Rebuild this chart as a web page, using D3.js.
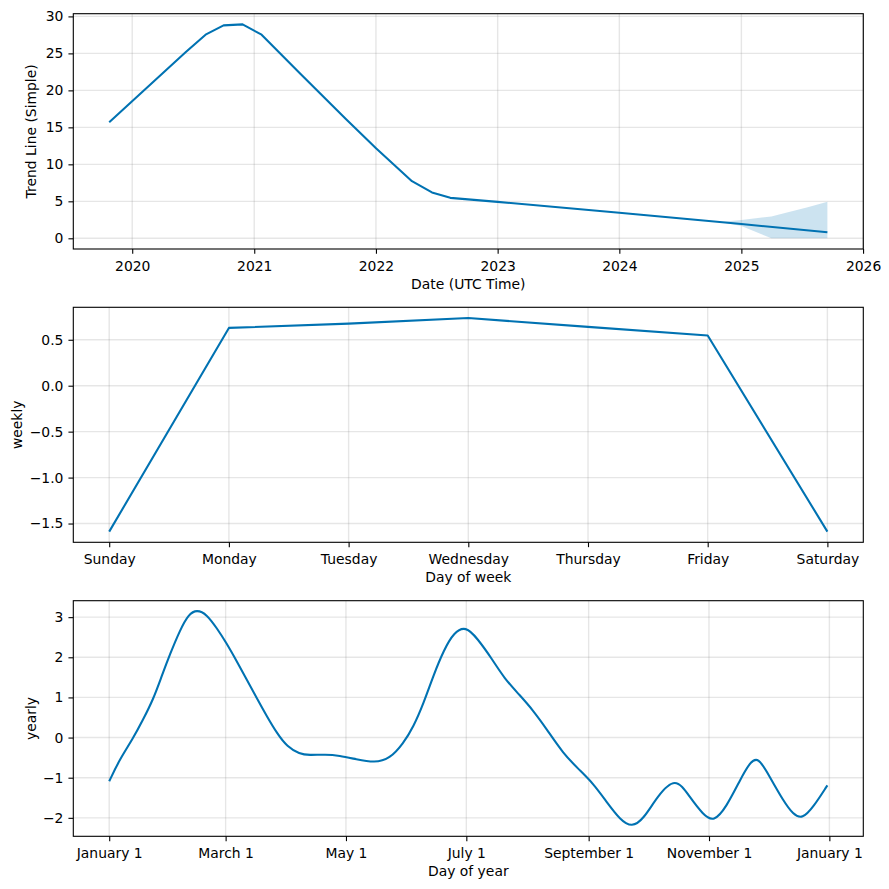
<!DOCTYPE html>
<html>
<head>
<meta charset="utf-8">
<script src="https://cdn.jsdelivr.net/npm/d3@7"></script>
<style>
  html, body { margin: 0; padding: 0; background: #ffffff; }
  svg text { font-family: "DejaVu Sans", sans-serif; fill: #000; }
</style>
</head>
<body>
<svg id="chart" width="889" height="889"></svg>
<script>
// ---------- DATA ----------
const trendDates = ["2019-10-24","2020-06-09","2020-08-08","2020-10-01","2020-11-27","2021-01-23","2021-05-20","2021-10-02","2022-01-02","2022-04-19","2022-06-18","2022-08-12","2023-01-01","2024-01-01","2025-01-01","2025-09-16"];
const trendValues = [15.7, 25.15, 27.53, 28.79, 28.92, 27.53, 22.2, 16.15, 12.13, 7.72, 6.2, 5.47, 4.93, 3.45, 1.93, 0.81];

const bandDates = ["2024-10-29","2025-01-01","2025-04-01","2025-05-06","2025-07-16","2025-08-15","2025-09-16"];
const bandUpper = [2.2, 2.47, 2.95, 3.37, 4.18, 4.53, 4.93];
const bandLower = [2.2, 1.66, 0.0, 0.0, 0.0, 0.0, 0.0];

const yearTicks1 = ["2020","2021","2022","2023","2024","2025","2026"];
const trendYTicks = [0, 5, 10, 15, 20, 25, 30];

const weekDays = ["Sunday","Monday","Tuesday","Wednesday","Thursday","Friday","Saturday"];
const weeklyValues = [-1.588, 0.629, 0.676, 0.737, 0.640, 0.546, -1.588];
const weeklyYTicks = [-1.5, -1.0, -0.5, 0.0, 0.5];

const yearlyDays = [0, 5, 12, 17, 22.4, 26.6, 30.9, 35.9, 40.2, 44.4, 49.5, 54.6, 59, 64.8, 69.9, 74.9, 80, 85.1, 90.2, 96.5, 101.2, 109.7, 116.6, 125.1, 134.5, 142.2, 149, 154.2, 159.3, 164.4, 169.6, 174.7, 180.7, 186.6, 194, 200.3, 208, 214.8, 221.6, 230.1, 238.6, 245.4, 252.2, 259, 264.9, 270.8, 277.6, 287, 294.2, 301, 306.4, 312.8, 319.6, 324.7, 328.9, 334.8, 341.6, 346.7, 351.3, 356.9, 364];
const yearlyValues = [-1.09, -0.57, -0.03, 0.43, 0.96, 1.53, 2.09, 2.68, 3.07, 3.19, 3.07, 2.72, 2.39, 1.89, 1.43, 0.97, 0.52, 0.10, -0.23, -0.41, -0.44, -0.42, -0.45, -0.54, -0.63, -0.53, -0.15, 0.27, 0.85, 1.56, 2.18, 2.62, 2.78, 2.47, 1.96, 1.47, 1.06, 0.68, 0.22, -0.40, -0.82, -1.15, -1.61, -2.05, -2.24, -2.03, -1.48, -0.96, -1.48, -1.92, -2.11, -1.73, -1.07, -0.62, -0.47, -0.98, -1.57, -1.92, -2.03, -1.73, -1.19];
const yearlyTickDates = ["2017-01-01","2017-03-01","2017-05-01","2017-07-01","2017-09-01","2017-11-01","2018-01-01"];
const yearlyYTicks = [-2, -1, 0, 1, 2, 3];
const yearlyBase = "2017-01-01";

// ---------- LAYOUT ----------
const LINE = "#0072B2";
const FONT = 13.9;
const left = 73.3, right = 863.3;
const panels = [{top: 13.7, h: 235.3}, {top: 307.3, h: 235}, {top: 600.7, h: 235.6}];
const parse = d3.utcParse("%Y-%m-%d");
const svg = d3.select("#chart");
const minus = s => s.replace(/-/g, "\u2212");

function pad(ext) { const r = ext[1] - ext[0]; return [ext[0] - 0.05 * r, ext[1] + 0.05 * r]; }

function drawFrame(g, p, x, y, xTicks, yTicks, xFmt, yFmt, xLabel, yLabel, yLabelX) {
  const b = p.h;
  g.append("g").selectAll("line").data(xTicks).join("line")
    .attr("x1", d => x(d)).attr("x2", d => x(d)).attr("y1", 0).attr("y2", b)
    .attr("stroke", "#808080").attr("stroke-opacity", 0.2).attr("stroke-width", 1.39);
  g.append("g").selectAll("line").data(yTicks).join("line")
    .attr("x1", left).attr("x2", right).attr("y1", d => y(d)).attr("y2", d => y(d))
    .attr("stroke", "#808080").attr("stroke-opacity", 0.2).attr("stroke-width", 1.39);
  const xa = g.append("g").attr("transform", `translate(0,${b})`)
    .call(d3.axisBottom(x).tickValues(xTicks).tickFormat(xFmt).tickSize(4.86).tickPadding(7.2).tickSizeOuter(0));
  const ya = g.append("g").attr("transform", `translate(${left},0)`)
    .call(d3.axisLeft(y).tickValues(yTicks).tickFormat(yFmt).tickSize(4.86).tickPadding(5).tickSizeOuter(0));
  [xa, ya].forEach(a => {
    a.select(".domain").remove();
    a.selectAll("line").attr("stroke", "#000").attr("stroke-width", 1.1);
    a.selectAll("text").style("font-size", FONT + "px").style("font-family", "DejaVu Sans").attr("fill", "#000");
  });
  g.append("text").attr("x", (left + right) / 2).attr("y", b + 40)
    .attr("text-anchor", "middle").style("font-size", FONT + "px").text(xLabel);
  g.append("text").attr("transform", `translate(${yLabelX},${b / 2}) rotate(-90)`)
    .attr("text-anchor", "middle").style("font-size", FONT + "px").text(yLabel);
}

function spine(g, p) {
  g.append("rect").attr("x", left).attr("y", 0).attr("width", right - left).attr("height", p.h)
    .attr("fill", "none").attr("stroke", "#000").attr("stroke-width", 1.1);
}

// ---------- PANEL 1: trend ----------
{
  const p = panels[0];
  const g = svg.append("g").attr("transform", `translate(0,${p.top})`);
  const td = trendDates.map(parse);
  const bd = bandDates.map(parse);
  const xExt = d3.extent(td.concat(bd)).map(d => +d);
  const x = d3.scaleUtc().domain(pad(xExt).map(v => new Date(v))).range([left, right]);
  const yExt = [d3.min(trendValues.concat(bandLower)), d3.max(trendValues.concat(bandUpper))];
  const y = d3.scaleLinear().domain(pad(yExt)).range([p.h, 0]);
  const xt = yearTicks1.map(s => parse(s + "-01-01"));
  drawFrame(g, p, x, y, xt, trendYTicks, d3.utcFormat("%Y"), d3.format("d"),
    "Date (UTC Time)", "Trend Line (Simple)", 36);
  const band = bd.map((d, i) => ({d, lo: bandLower[i], hi: bandUpper[i]}));
  g.append("path").datum(band)
    .attr("d", d3.area().x(d => x(d.d)).y0(d => y(d.lo)).y1(d => y(d.hi)))
    .attr("fill", LINE).attr("fill-opacity", 0.2).attr("stroke", "none");
  const pts = td.map((d, i) => ({d, v: trendValues[i]}));
  g.append("path").datum(pts)
    .attr("d", d3.line().x(d => x(d.d)).y(d => y(d.v)))
    .attr("fill", "none").attr("stroke", LINE).attr("stroke-width", 2.08).attr("stroke-linejoin", "round");
  spine(g, p);
}

// ---------- PANEL 2: weekly ----------
{
  const p = panels[1];
  const g = svg.append("g").attr("transform", `translate(0,${p.top})`);
  const idx = weekDays.map((d, i) => i);
  const x = d3.scaleLinear().domain(pad([0, weekDays.length - 1])).range([left, right]);
  const y = d3.scaleLinear().domain(pad(d3.extent(weeklyValues))).range([p.h, 0]);
  drawFrame(g, p, x, y, idx, weeklyYTicks, i => weekDays[i], v => minus(d3.format(".1f")(v)),
    "Day of week", "weekly", 22.3);
  g.append("path").datum(weeklyValues)
    .attr("d", d3.line().x((d, i) => x(i)).y(d => y(d)))
    .attr("fill", "none").attr("stroke", LINE).attr("stroke-width", 2.08).attr("stroke-linejoin", "round");
  spine(g, p);
}

// ---------- PANEL 3: yearly ----------
{
  const p = panels[2];
  const g = svg.append("g").attr("transform", `translate(0,${p.top})`);
  const base = +parse(yearlyBase);
  const DAY = 86400000;
  const dates = yearlyDays.map(d => new Date(base + d * DAY));
  const x = d3.scaleUtc().domain(pad(d3.extent(dates).map(d => +d)).map(v => new Date(v))).range([left, right]);
  const y = d3.scaleLinear().domain([-2.46, 3.41]).range([p.h, 0]);
  const xt = yearlyTickDates.map(parse);
  drawFrame(g, p, x, y, xt, yearlyYTicks, d3.utcFormat("%B %-d"), v => minus(d3.format("d")(v)),
    "Day of year", "yearly", 35.6);
  const pts = dates.map((d, i) => ({d, v: yearlyValues[i]}));
  g.append("path").datum(pts)
    .attr("d", d3.line().curve(d3.curveBasis).x(d => x(d.d)).y(d => y(d.v)))
    .attr("fill", "none").attr("stroke", LINE).attr("stroke-width", 2.08).attr("stroke-linejoin", "round");
  spine(g, p);
}
</script>
</body>
</html>
